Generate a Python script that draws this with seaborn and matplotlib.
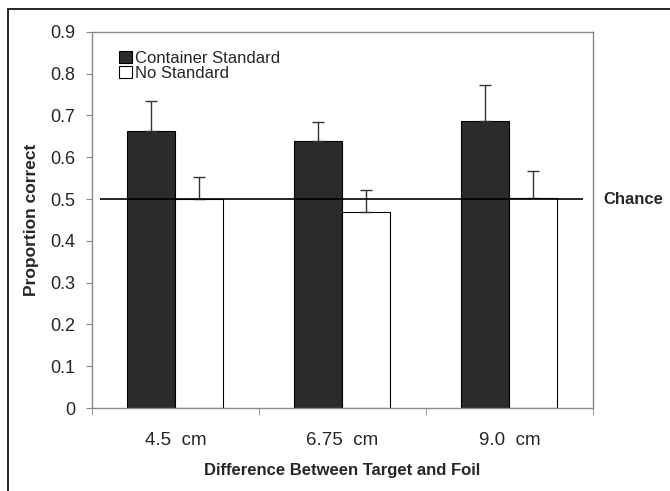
import pandas as pd
import numpy as np
import matplotlib
matplotlib.use("Agg")
import matplotlib.pyplot as plt
import seaborn as sns
from matplotlib.patches import Rectangle

# data
categories = ["4.5  cm", "6.75  cm", "9.0  cm"]
groups = ["Container Standard", "No Standard"]
container_mean = [0.663, 0.640, 0.688]
container_err = [0.072, 0.045, 0.085]
nostd_mean = [0.500, 0.470, 0.502]
nostd_err = [0.052, 0.052, 0.065]
chance = 0.5
y_ticks = [0, 0.1, 0.2, 0.3, 0.4, 0.5, 0.6, 0.7, 0.8, 0.9]
y_tick_labels = ["0", "0.1", "0.2", "0.3", "0.4", "0.5", "0.6", "0.7", "0.8", "0.9"]

df = pd.DataFrame({
    "Difference": categories * 2,
    "Group": [groups[0]] * 3 + [groups[1]] * 3,
    "Proportion": container_mean + nostd_mean,
    "Err": container_err + nostd_err,
})

sns.set_style("white")
plt.rcParams["font.family"] = ["Liberation Sans", "DejaVu Sans"]

fig = plt.figure(figsize=(6.7, 4.91), dpi=100)
ax = fig.add_axes([0.137, 0.169, 0.748, 0.766])

palette = {groups[0]: "#2b2b2b", groups[1]: "white"}
sns.barplot(data=df, x="Difference", y="Proportion", hue="Group", order=categories,
            hue_order=groups, palette=palette, width=0.575, edgecolor="black",
            linewidth=0.8, errorbar=None, ax=ax, zorder=2)

# upper-only error bars, placed on the bar centres seaborn computed
bars = [p for p in ax.patches if isinstance(p, Rectangle) and p.get_width() > 0][:6]
for bar, err in zip(bars, df["Err"]):
    xc = bar.get_x() + bar.get_width() / 2
    h = bar.get_height()
    ax.errorbar(xc, h, yerr=[[0], [err]], fmt="none", ecolor="#333333",
                elinewidth=1.0, capsize=4, capthick=1.0, zorder=3)

ax.hlines(chance, -0.452, 2.44, colors="black", linewidth=1.2, zorder=4)
ax.text(2.56, chance, "Chance", fontsize=12, fontweight="bold", va="center", ha="left")

ax.set_xlim(-0.5, 2.5)
ax.set_ylim(0, 0.9)
ax.set_yticks(y_ticks)
ax.set_yticklabels(y_tick_labels)
ax.set_xticks([-0.5, 0.5, 1.5, 2.5], minor=True)
ax.tick_params(axis="x", which="major", length=0, labelsize=13.5, pad=17)
ax.tick_params(axis="x", which="minor", length=5, color="#888888", direction="out")
ax.tick_params(axis="y", length=4, color="#888888", direction="out", labelsize=13, pad=8)
ax.xaxis.set_ticks_position("bottom")
ax.yaxis.set_ticks_position("left")
for s in ax.spines.values():
    s.set_color("#888888")
    s.set_linewidth(1.0)

ax.set_xlabel("Difference Between Target and Foil", fontsize=12, fontweight="bold", labelpad=10)
ax.set_ylabel("Proportion correct", fontsize=12.5, fontweight="bold", labelpad=8)

ax.legend(loc="upper left", bbox_to_anchor=(0.055, 0.95), frameon=False, fontsize=12,
          handlelength=0.75, handleheight=0.75, handletextpad=0.2, labelspacing=0.0,
          borderaxespad=0, borderpad=0)

# outer frame around the figure
fig.patches.append(Rectangle((8 / 670, -0.1), 1.2, 1 - 9 / 491 + 0.1,
                             transform=fig.transFigure, fill=False,
                             edgecolor="black", linewidth=1.2))

fig.savefig("out.png", dpi=100)
